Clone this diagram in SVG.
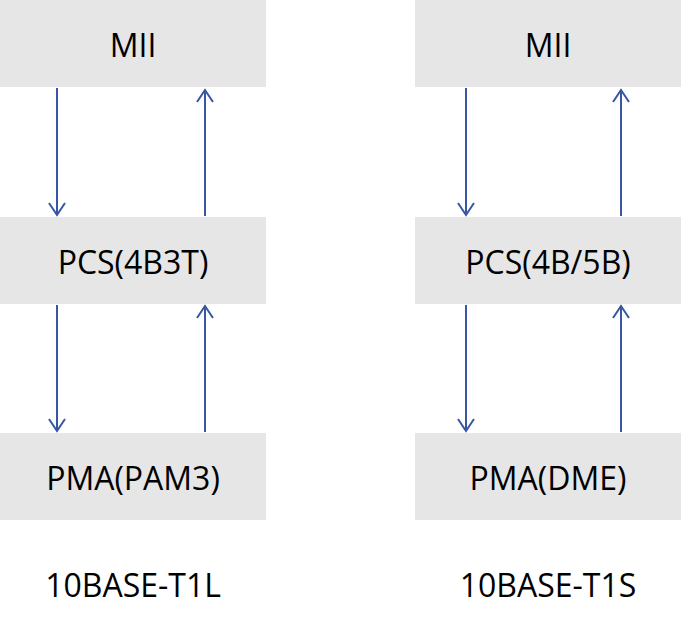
<svg xmlns="http://www.w3.org/2000/svg" width="681" height="617" viewBox="0 0 681 617">
<style>
.box{fill:#e6e6e6}
.t{font-family:"Open Sans","Noto Sans",sans-serif;font-size:32px;fill:#000;text-anchor:middle;dominant-baseline:central}
.c{stroke:#3757a4;stroke-width:2;fill:none}
</style>
<rect width="681" height="617" fill="#fff"/>
<g id="l-mii"><rect class="box" x="0" y="0" width="266" height="87"/><text class="t" x="133" y="44">MII</text></g>
<g id="l-pcs"><rect class="box" x="0" y="217" width="266" height="87"/><text class="t" x="133" y="261">PCS(4B3T)</text></g>
<g id="l-pma"><rect class="box" x="0" y="433" width="266" height="87"/><text class="t" x="133" y="477">PMA(PAM3)</text></g>
<g id="r-mii"><rect class="box" x="415" y="0" width="266" height="87"/><text class="t" x="548" y="44">MII</text></g>
<g id="r-pcs"><rect class="box" x="415" y="217" width="266" height="87"/><text class="t" x="548" y="261">PCS(4B/5B)</text></g>
<g id="r-pma"><rect class="box" x="415" y="433" width="266" height="87"/><text class="t" x="548" y="477">PMA(DME)</text></g>
<g id="l-label"><text class="t" x="133" y="584">10BASE-T1L</text></g>
<g id="r-label"><text class="t" x="548" y="584">10BASE-T1S</text></g>
<g id="connectors" class="c">
<path d="M57 88V215M49 203L57 215L65 203"/>
<path d="M205 216V90M197 102L205 90L213 102"/>
<path d="M57 305V431M49 419L57 431L65 419"/>
<path d="M205 432V306M197 318L205 306L213 318"/>
<path d="M466 88V215M458 203L466 215L474 203"/>
<path d="M621 216V90M613 102L621 90L629 102"/>
<path d="M466 305V431M458 419L466 431L474 419"/>
<path d="M621 432V306M613 318L621 306L629 318"/>
</g>
</svg>
